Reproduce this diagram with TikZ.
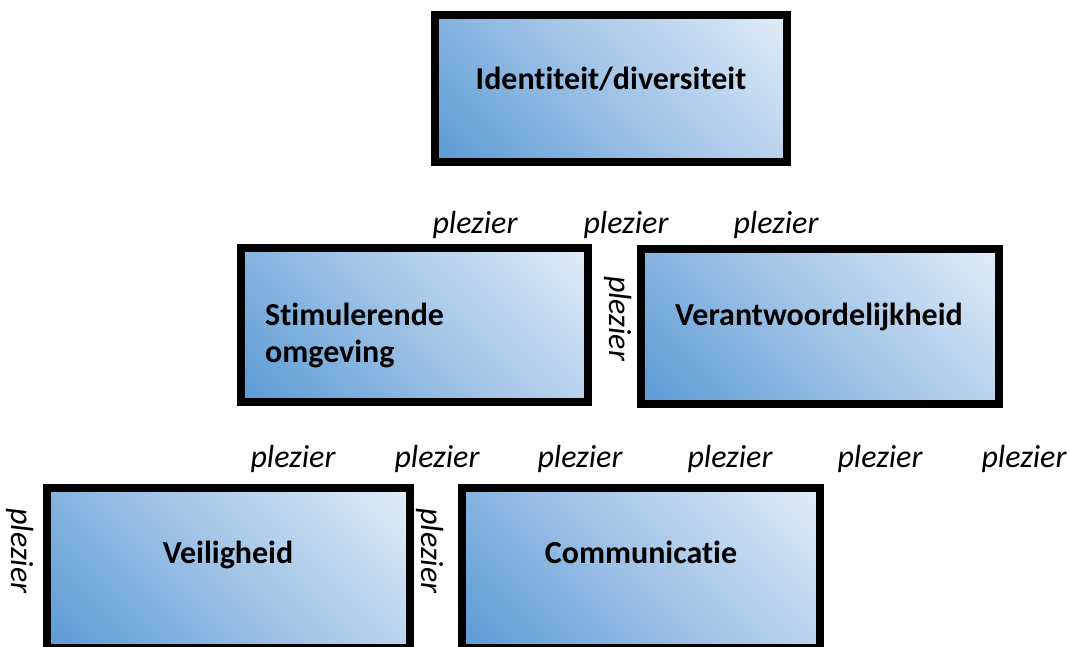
\documentclass[tikz,border=0pt]{standalone}
\usepackage{fontspec}
\setmainfont{Carlito}[Ligatures=NoCommon]
\definecolor{boxdark}{RGB}{91,155,213}
\definecolor{boxmid}{RGB}{165,198,232}
\definecolor{boxlight}{RGB}{224,236,248}
\pgfdeclareverticalshading{wordgrad}{100bp}{color(0bp)=(boxdark); color(15bp)=(boxdark); color(52bp)=(boxmid); color(85bp)=(boxlight); color(100bp)=(boxlight)}
\begin{document}
\begin{tikzpicture}[x=1pt,y=-1pt,
  box/.style={draw=black, line width=8pt, inner sep=0pt, outer sep=0pt,
    shading=wordgrad, shading angle=-45},
  boxtext/.style={font=\fontsize{32}{39}\selectfont\bfseries, inner sep=0pt, anchor=base},
  fun/.style={font=\fontsize{32}{39}\selectfont\itshape, inner sep=0pt, anchor=base},
  funv/.style={font=\fontsize{32}{39}\selectfont\itshape, inner sep=0pt, anchor=center, rotate=-90}]
\useasboundingbox (0,0) rectangle (1069,646);
\begin{scope}
\clip (0,0) rectangle (1069,646);
\node[box, minimum width=352pt, minimum height=147pt] (id) at (611,88.5) {};
\node[box, minimum width=347pt, minimum height=154pt] (stim) at (414.5,325) {};
\node[box, minimum width=358pt, minimum height=155pt] (verant) at (820,326.5) {};
\node[box, minimum width=363pt, minimum height=160pt] (veil) at (228.5,568) {};
\node[box, minimum width=358pt, minimum height=160pt] (comm) at (641,568) {};
\end{scope}
\node[boxtext] (tid) at (611,89) {Identiteit/diversiteit};
\node[boxtext, anchor=base west] (tstim1) at (265,325) {Stimulerende};
\node[boxtext, anchor=base west] (tstim2) at (265,362) {omgeving};
\node[boxtext] (tverant) at (819,325) {Verantwoordelijkheid};
\node[boxtext] (tveil) at (228,563) {Veiligheid};
\node[boxtext] (tcomm) at (641,563) {Communicatie};
% horizontal labels, top row
\node[fun] (p1) at (475,233) {plezier};
\node[fun] (p2) at (626,233) {plezier};
\node[fun] (p3) at (776,233) {plezier};
% horizontal labels, second row
\node[fun] (p4) at (293,467) {plezier};
\node[fun] (p5) at (437,467) {plezier};
\node[fun] (p6) at (580,467) {plezier};
\node[fun] (p7) at (730,467) {plezier};
\node[fun] (p8) at (880,467) {plezier};
\node[fun] (p9) at (1024,467) {plezier};
% vertical labels
\node[funv] (v1) at (618,318.5) {plezier};
\node[funv] (v2) at (20,551) {plezier};
\node[funv] (v3) at (430.5,551) {plezier};
\end{tikzpicture}
\end{document}
